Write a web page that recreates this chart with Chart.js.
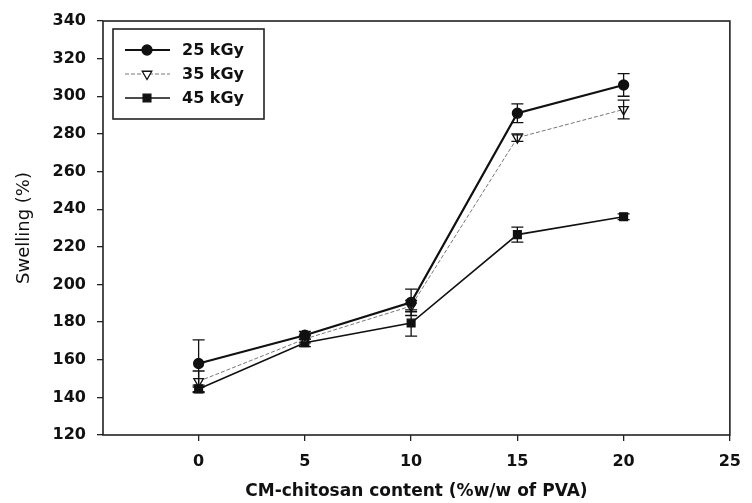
<!DOCTYPE html>
<html>
<head>
<meta charset="utf-8">
<title>Swelling vs CM-chitosan content</title>
<script src="https://cdn.jsdelivr.net/npm/chart.js@4.4.0/dist/chart.umd.min.js"></script>
<style>
  html, body { margin: 0; padding: 0; background: #fff; }
  #wrap { width: 752px; height: 503px; }
</style>
</head>
<body>
<div id="wrap"><canvas id="chart" width="752" height="503"></canvas></div>
<script>
  'use strict';

  // ---- Data ----
  const content = [0, 5, 10, 15, 20];
  const seriesNames = ['25 kGy', '35 kGy', '45 kGy'];
  const swell25 = [158, 173, 190.5, 291, 306];
  const swell35 = [148.5, 171, 188.5, 278, 293];
  const swell45 = [144.5, 169, 179.5, 226.5, 236];
  const err25 = [12.5, 2, 7, 5, 6];
  const err35 = [5.5, 2, 3, 2, 5];
  const err45 = [2, 2, 7, 4, 1.5];
  const xTicks = [0, 5, 10, 15, 20, 25];
  const yTicks = [120, 140, 160, 180, 200, 220, 240, 260, 280, 300, 320, 340];

  const FONT = "'DejaVu Sans', 'Liberation Sans', Arial, sans-serif";

  function points(vals) {
    return content.map((x, i) => ({ x, y: vals[i] }));
  }

  const styles = [
    { color: '#111', width: 2.2, dash: [], pointStyle: 'circle', radius: 5, fill: '#111', rot: 0 },
    { color: '#777', width: 1, dash: [4, 2], pointStyle: 'triangle', radius: 5.5, fill: '#fff', rot: 180 },
    { color: '#111', width: 1.6, dash: [], pointStyle: 'rect', radius: 5.5, fill: '#111', rot: 0 }
  ];
  const allVals = [swell25, swell35, swell45];
  const allErr = [err25, err35, err45];

  const datasets = allVals.map((vals, i) => ({
    label: seriesNames[i],
    data: points(vals),
    errors: allErr[i],
    borderColor: styles[i].color,
    borderWidth: styles[i].width,
    borderDash: styles[i].dash,
    pointStyle: styles[i].pointStyle,
    pointRadius: styles[i].radius,
    pointRotation: styles[i].rot,
    pointBackgroundColor: styles[i].fill,
    pointBorderColor: '#111',
    pointBorderWidth: 1.3,
    tension: 0
  }));

  // ---- Error bars (drawn through the scales) ----
  const errorBars = {
    id: 'errorBars',
    afterDatasetsDraw(chart) {
      const { ctx, scales: { x, y } } = chart;
      ctx.save();
      ctx.strokeStyle = '#111';
      ctx.lineWidth = 1.3;
      chart.data.datasets.forEach(ds => {
        ds.data.forEach((p, i) => {
          const e = ds.errors[i];
          const px = x.getPixelForValue(p.x);
          const top = y.getPixelForValue(p.y + e);
          const bot = y.getPixelForValue(p.y - e);
          ctx.beginPath();
          ctx.moveTo(px, top); ctx.lineTo(px, bot);
          ctx.moveTo(px - 6, top); ctx.lineTo(px + 6, top);
          ctx.moveTo(px - 6, bot); ctx.lineTo(px + 6, bot);
          ctx.stroke();
        });
      });
      ctx.restore();
    }
  };

  // ---- Plot frame ----
  const frame = {
    id: 'frame',
    beforeDatasetsDraw(chart) {
      const { ctx, chartArea: a } = chart;
      ctx.save();
      ctx.strokeStyle = '#222';
      ctx.lineWidth = 1.6;
      ctx.strokeRect(a.left, a.top, a.right - a.left, a.bottom - a.top);
      ctx.restore();
    }
  };

  // ---- Legend box inside the plot ----
  const boxLegend = {
    id: 'boxLegend',
    afterDraw(chart) {
      const { ctx, chartArea: a } = chart;
      const bx = a.left + 10, by = a.top + 8, bw = 151, bh = 90;
      ctx.save();
      ctx.strokeStyle = '#222';
      ctx.lineWidth = 1.6;
      ctx.strokeRect(bx, by, bw, bh);
      chart.data.datasets.forEach((ds, i) => {
        const cy = by + 21 + i * 24;
        const s = styles[i];
        ctx.strokeStyle = s.color;
        ctx.lineWidth = s.width;
        ctx.setLineDash(s.dash);
        ctx.beginPath();
        ctx.moveTo(bx + 12, cy); ctx.lineTo(bx + 57, cy);
        ctx.stroke();
        ctx.setLineDash([]);
        ctx.fillStyle = s.fill;
        ctx.strokeStyle = '#111';
        ctx.lineWidth = 1.3;
        Chart.helpers.drawPoint(ctx, { pointStyle: s.pointStyle, radius: s.radius, rotation: s.rot, borderWidth: 1.3 }, bx + 34, cy);
        ctx.fillStyle = '#111';
        ctx.font = 'bold 16px ' + FONT;
        ctx.textBaseline = 'middle';
        ctx.fillText(ds.label, bx + 69, cy + 1);
      });
      ctx.restore();
    }
  };

  new Chart(document.getElementById('chart'), {
    type: 'line',
    data: { datasets },
    plugins: [frame, errorBars, boxLegend],
    options: {
      responsive: false,
      animation: false,
      layout: { padding: { left: 0, top: 21, right: 15, bottom: 0 } },
      plugins: { legend: { display: false }, tooltip: { enabled: false } },
      scales: {
        x: {
          type: 'linear',
          min: -4.5,
          max: 25,
          afterBuildTicks: s => { s.ticks = xTicks.map(v => ({ value: v })); },
          afterFit: s => { s.height = 68; },
          grid: { drawOnChartArea: false, drawTicks: true, tickLength: 6, color: '#222', lineWidth: 1.3 },
          border: { display: false },
          ticks: { color: '#111', font: { family: FONT, size: 16, weight: 'bold' }, padding: 11, maxRotation: 0 },
          title: {
            display: true,
            text: 'CM-chitosan content (%w/w of PVA)',
            color: '#111',
            font: { family: FONT, size: 17, weight: 'bold' },
            padding: { top: 0, bottom: 1 }
          }
        },
        y: {
          min: 120,
          max: 340,
          afterBuildTicks: s => { s.ticks = yTicks.map(v => ({ value: v })); },
          afterFit: s => { s.width = 103; },
          grid: { drawOnChartArea: false, drawTicks: true, tickLength: 6, color: '#222', lineWidth: 1.3 },
          border: { display: false },
          ticks: { color: '#111', font: { family: FONT, size: 16, weight: 'bold' }, padding: 11 },
          title: {
            display: true,
            text: 'Swelling (%)',
            color: '#111',
            font: { family: FONT, size: 18, weight: 'normal' },
            padding: { top: 14, bottom: 0 }
          }
        }
      }
    }
  });
</script>
</body>
</html>
